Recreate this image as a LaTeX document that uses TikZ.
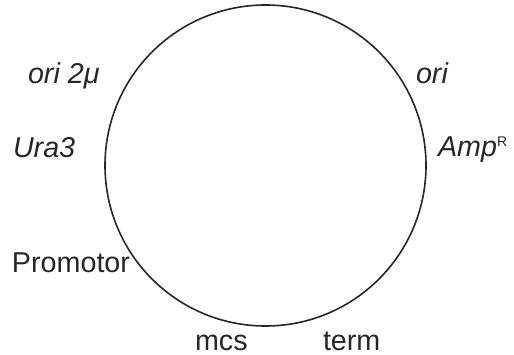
\documentclass[tikz,border=0pt]{standalone}
\usepackage{fontspec}
\setmainfont{Liberation Sans}
\tikzset{
  lbl/.style={anchor=base west, inner sep=0pt, outer sep=0pt, font=\fontsize{28.7}{34}\selectfont, text=black!85},
  ring/.style={draw=black!85, line width=1.6pt}
}
\begin{document}
\begin{tikzpicture}[x=1pt,y=-1pt]
\useasboundingbox (0,0) rectangle (514,355);
\draw[ring] (265.5,165.5) circle[radius=160.5];
\node[lbl] (ori2) at (28,84) {\itshape ori 2μ};
\node[lbl] (ura) at (13,158) {\itshape Ura3};
\node[lbl] (ori) at (416,84) {\itshape ori};
\node[lbl] (amp) at (438,157) {\textit{Amp}\raisebox{10.5pt}{\fontsize{14}{16}\selectfont R}};
\node[lbl] (prom) at (12,273) {Promotor};
\node[lbl] (mcs) at (195,350) {mcs};
\node[lbl] (term) at (323,350) {term};
\end{tikzpicture}
\end{document}
